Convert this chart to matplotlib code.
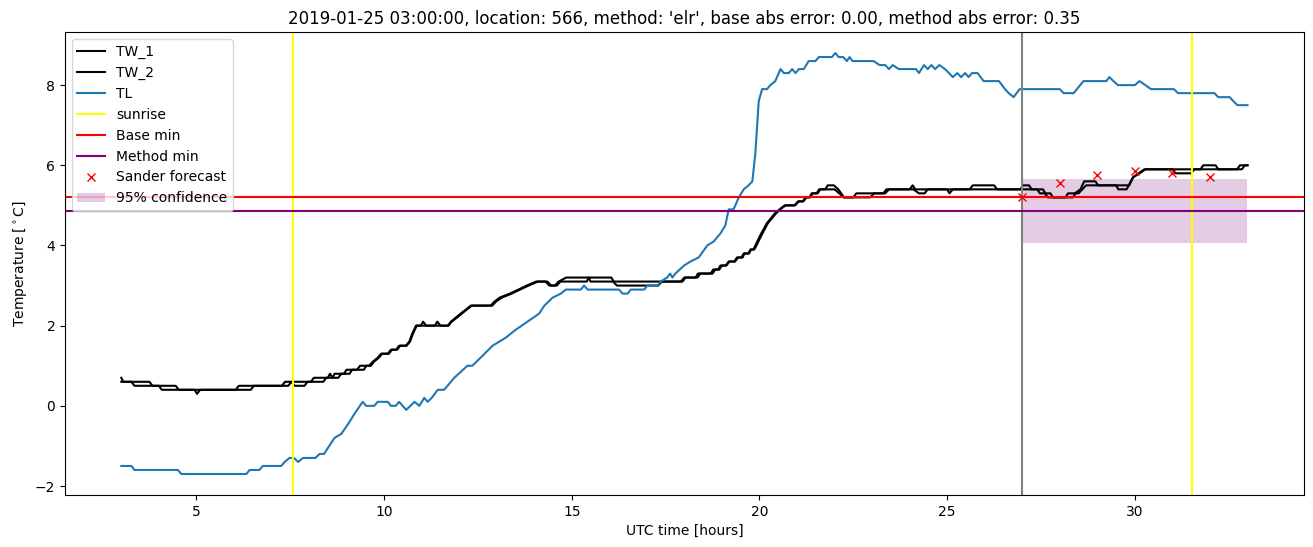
import matplotlib
matplotlib.use("Agg")
import matplotlib.pyplot as plt

# breakpoints (UTC hour, temperature)
tw1_t = [3.0, 3.05, 3.27, 3.35, 4.0, 4.08, 4.95, 5.02, 5.1, 6.05, 6.13, 7.28, 7.36, 8.05, 8.13,
         8.5, 8.56, 8.63, 8.68, 8.93, 9.0, 9.28, 9.36, 9.6, 9.7, 9.83, 9.92, 10.1, 10.18, 10.32,
         10.4, 10.58, 10.67, 10.75, 10.85, 10.98, 11.04, 11.12, 11.7, 11.78, 11.91, 12.04, 12.18,
         12.31, 12.84, 12.94, 13.08, 13.35, 13.58, 13.8, 14.05, 14.35, 14.45, 14.55, 14.65, 14.85,
         16.05, 16.12, 17.3, 17.9, 18.0, 18.3, 18.36, 18.7, 18.77, 18.9, 18.96, 19.1, 19.18, 19.33,
         19.4, 19.52, 19.58, 19.7, 19.76, 19.84, 19.89, 20.03, 20.2, 20.42, 20.6, 20.67, 20.93,
         21.03, 21.15, 21.23, 21.33, 21.39, 21.52, 21.59, 21.75, 21.82, 21.98, 22.1, 22.25, 22.5,
         22.58, 23.3, 23.38, 24.0, 24.08, 24.15, 25.6, 25.68, 26.25, 26.33, 26.95, 27.02, 27.18,
         27.25, 27.4, 27.47, 27.6, 27.68, 28.15, 28.22, 28.4, 28.55, 28.65, 28.95, 29.02, 29.85,
         29.95, 30.1, 30.25, 31.75, 31.82, 32.15, 32.22, 32.72, 32.8, 33.0]
tw1_v = [0.7, 0.6, 0.6, 0.5, 0.5, 0.4, 0.4, 0.3, 0.4, 0.4, 0.5, 0.5, 0.6, 0.6, 0.7,
         0.7, 0.8, 0.7, 0.8, 0.8, 0.9, 0.9, 1.0, 1.0, 1.1, 1.2, 1.3, 1.3, 1.4, 1.4,
         1.5, 1.5, 1.6, 1.8, 2.0, 2.0, 2.1, 2.0, 2.0, 2.1, 2.2, 2.3, 2.4,
         2.5, 2.5, 2.6, 2.7, 2.8, 2.9, 3.0, 3.1, 3.1, 3.0, 3.0, 3.1, 3.2,
         3.2, 3.1, 3.1, 3.1, 3.2, 3.2, 3.3, 3.3, 3.4, 3.4, 3.5, 3.5, 3.6, 3.6,
         3.7, 3.7, 3.8, 3.8, 3.9, 3.9, 4.0, 4.27, 4.56, 4.81, 4.95, 5.0, 5.0,
         5.1, 5.1, 5.2, 5.2, 5.3, 5.3, 5.4, 5.4, 5.5, 5.5, 5.4, 5.2, 5.2,
         5.3, 5.3, 5.4, 5.4, 5.5, 5.4, 5.4, 5.5, 5.5, 5.4, 5.4, 5.5, 5.5,
         5.4, 5.4, 5.3, 5.3, 5.2, 5.2, 5.3, 5.3, 5.4, 5.6, 5.6, 5.5, 5.5,
         5.7, 5.8, 5.9, 5.9, 6.0, 6.0, 5.9, 5.9, 6.0, 6.0]

tw2_t = [3.0, 3.75, 3.83, 4.45, 4.53, 6.45, 6.53, 7.45, 7.53, 7.62, 7.88, 7.96, 8.38, 8.46,
         8.78, 8.86, 9.08, 9.15, 9.46, 9.53, 9.65, 9.73, 9.86, 9.95, 10.13, 10.21, 10.35, 10.43,
         10.6, 10.69, 10.77, 10.87, 11.35, 11.42, 11.5, 11.72, 11.8, 11.94, 12.07, 12.2, 12.34,
         12.88, 12.98, 13.14, 13.4, 13.62, 13.85, 14.1, 14.3, 14.4, 14.6, 14.7, 15.4, 15.45, 15.5,
         16.1, 16.2, 17.3, 17.4, 17.95, 18.03, 18.35, 18.42, 18.75, 18.82, 18.93, 19.0, 19.12,
         19.2, 19.35, 19.43, 19.55, 19.6, 19.72, 19.78, 19.86, 19.92, 20.05, 20.22, 20.44, 20.62,
         20.7, 20.95, 21.05, 21.17, 21.25, 21.35, 21.42, 21.55, 21.62, 22.0, 22.25, 22.95, 23.05,
         23.35, 23.45, 24.1, 24.25, 24.4, 24.48, 25.0, 25.06, 25.15, 27.55, 27.62, 27.75, 27.82,
         28.35, 28.42, 28.5, 28.6, 28.7, 29.5, 29.56, 29.78, 29.95, 30.13, 30.28, 31.0, 31.08,
         31.5, 31.58, 32.85, 32.93, 33.0]
tw2_v = [0.6, 0.6, 0.5, 0.5, 0.4, 0.4, 0.5, 0.5, 0.6, 0.5, 0.5, 0.6, 0.6, 0.7,
         0.7, 0.8, 0.8, 0.9, 0.9, 1.0, 1.0, 1.1, 1.2, 1.3, 1.3, 1.4, 1.4, 1.5,
         1.5, 1.6, 1.8, 2.0, 2.0, 2.1, 2.0, 2.0, 2.1, 2.2, 2.3, 2.4, 2.5,
         2.5, 2.6, 2.7, 2.8, 2.9, 3.0, 3.1, 3.1, 3.0, 3.0, 3.1, 3.1, 3.2, 3.1,
         3.1, 3.0, 3.0, 3.1, 3.1, 3.2, 3.2, 3.3, 3.3, 3.4, 3.4, 3.5, 3.5,
         3.6, 3.6, 3.7, 3.7, 3.8, 3.8, 3.9, 3.9, 4.0, 4.25, 4.55, 4.8, 4.95,
         5.0, 5.0, 5.1, 5.1, 5.2, 5.2, 5.3, 5.3, 5.4, 5.4, 5.2, 5.2, 5.3,
         5.3, 5.4, 5.4, 5.3, 5.3, 5.4, 5.4, 5.3, 5.4, 5.4, 5.3, 5.3, 5.2,
         5.2, 5.3, 5.3, 5.4, 5.5, 5.5, 5.4, 5.4, 5.7, 5.8, 5.9, 5.9, 5.8,
         5.8, 5.9, 5.9, 6.0, 6.0]

tl_t = [3.0, 3.27, 3.35, 4.51, 4.6, 6.33, 6.42, 6.68, 6.77, 7.26, 7.35, 7.48, 7.6, 7.71, 7.84,
        8.17, 8.28, 8.4, 8.68, 8.86, 9.08, 9.21, 9.43, 9.52, 9.74, 9.83, 10.1, 10.18, 10.31, 10.4,
        10.59, 10.81, 10.94, 11.07, 11.16, 11.27, 11.43, 11.6, 11.87, 12.22, 12.35, 12.57, 12.89,
        13.24, 13.51, 13.82, 14.13, 14.27, 14.49, 14.71, 14.84, 15.24, 15.33, 15.42, 16.26, 16.35,
        16.49, 16.57, 16.93, 17.01, 17.28, 17.37, 17.54, 17.62, 17.68, 17.76, 17.99, 18.16, 18.38,
        18.61, 18.78, 18.96, 19.09, 19.18, 19.31, 19.45, 19.58, 19.71, 19.81, 19.89, 19.98, 20.07,
        20.2, 20.29, 20.42, 20.56, 20.65, 20.78, 20.87, 20.96, 21.05, 21.18, 21.31, 21.49, 21.58,
        21.93, 22.02, 22.11, 22.23, 22.33, 22.4, 22.48, 23.04, 23.2, 23.35, 23.45, 23.55, 23.71,
        24.17, 24.25, 24.38, 24.48, 24.58, 24.68, 24.79, 24.94, 25.05, 25.15, 25.27, 25.37, 25.48,
        25.57, 25.66, 25.81, 25.97, 26.38, 26.54, 26.64, 26.77, 26.93, 28.0, 28.1, 28.37, 28.63,
        29.24, 29.32, 29.43, 29.55, 30.0, 30.12, 30.28, 30.43, 31.04, 31.15, 32.12, 32.22, 32.52,
        32.73, 33.0]
tl_v = [-1.5, -1.5, -1.6, -1.6, -1.7, -1.7, -1.6, -1.6, -1.5, -1.5, -1.4, -1.3, -1.3, -1.4, -1.3,
        -1.3, -1.2, -1.2, -0.8, -0.7, -0.4, -0.2, 0.1, 0.0, 0.0, 0.1, 0.1, 0.0, 0.0, 0.1,
        -0.1, 0.1, 0.0, 0.2, 0.1, 0.2, 0.4, 0.4, 0.7, 1.0, 1.0, 1.2, 1.5,
        1.7, 1.9, 2.1, 2.3, 2.5, 2.7, 2.8, 2.9, 2.9, 3.0, 2.9, 2.9, 2.8,
        2.8, 2.9, 2.9, 3.0, 3.0, 3.1, 3.2, 3.3, 3.2, 3.3, 3.5, 3.6, 3.7,
        4.0, 4.1, 4.3, 4.5, 4.9, 4.9, 5.2, 5.4, 5.5, 5.6, 6.3, 7.6, 7.9,
        7.9, 8.0, 8.1, 8.4, 8.3, 8.3, 8.4, 8.3, 8.4, 8.4, 8.6, 8.6, 8.7,
        8.7, 8.8, 8.7, 8.7, 8.6, 8.7, 8.6, 8.6, 8.5, 8.5, 8.4, 8.5, 8.4,
        8.4, 8.3, 8.5, 8.4, 8.5, 8.4, 8.5, 8.4, 8.3, 8.2, 8.3, 8.2, 8.3,
        8.2, 8.3, 8.3, 8.1, 8.1, 7.9, 7.8, 7.7, 7.9, 7.9, 7.8, 7.8, 8.1,
        8.1, 8.2, 8.1, 8.0, 8.0, 8.1, 8.0, 7.9, 7.9, 7.8, 7.8, 7.7, 7.7,
        7.5, 7.5]

sunrise = [7.58, 31.53]
forecast_start = 27.0
base_min = 5.2
method_min = 4.85
conf_low = 4.05
conf_high = 5.65
sander_t = [27, 28, 29, 30, 31, 32]
sander_v = [5.2, 5.55, 5.76, 5.86, 5.81, 5.71]

fig, ax = plt.subplots(figsize=(13.13, 5.47), dpi=100)
plt.subplots_adjust(left=0.0495, right=0.993, top=0.9415, bottom=0.095)

ax.plot(tw1_t, tw1_v, color='black', label='TW_1')
ax.plot(tw2_t, tw2_v, color='black', label='TW_2')
ax.plot(tl_t, tl_v, color='C0', label='TL')
ax.axvline(sunrise[0], color='yellow', label='sunrise')
ax.axvline(sunrise[1], color='yellow')
ax.axvline(forecast_start, color='grey')
ax.axhline(base_min, color='red', label='Base min')
ax.axhline(method_min, color='purple', label='Method min')
ax.plot(sander_t, sander_v, 'rx', label='Sander forecast')
ax.fill_between([forecast_start, 33], conf_low, conf_high, color='purple', alpha=0.2,
                linewidth=0, label='95% confidence')

ax.set_xlim(1.5, 34.5)
ax.set_ylim(-2.225, 9.325)
ax.set_xlabel('UTC time [hours]')
ax.set_ylabel(r'Temperature [$^\circ$C]')
ax.set_title("2019-01-25 03:00:00, location: 566, method: 'elr', base abs error: 0.00, method abs error: 0.35")
ax.legend(loc='upper left')

plt.savefig('out.png')
